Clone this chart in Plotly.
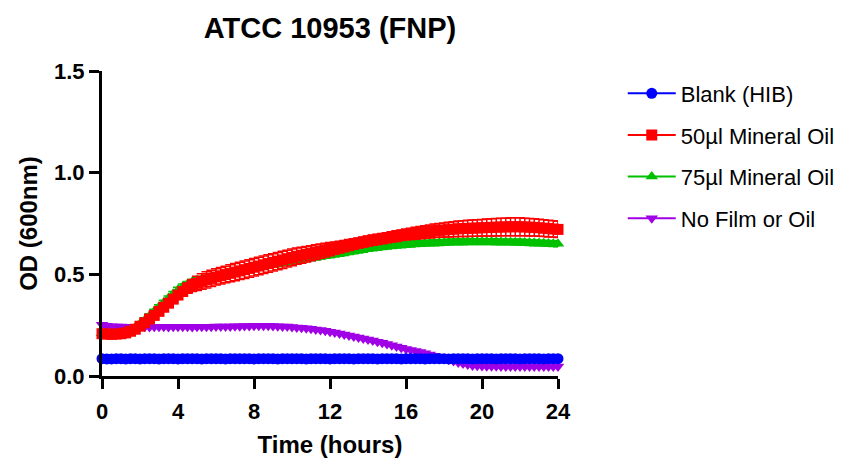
import plotly.graph_objects as go

# Time points (hours), every 15 minutes
time_h = [i * 0.25 for i in range(97)]

blank_hib = [0.085, 0.084, 0.084, 0.085, 0.085, 0.084, 0.085, 0.085, 0.084, 0.085,
             0.085, 0.085, 0.084, 0.085, 0.085, 0.085, 0.084, 0.085, 0.085, 0.085,
             0.085, 0.084, 0.085, 0.085, 0.085, 0.085, 0.084, 0.085, 0.085, 0.085,
             0.085, 0.085, 0.084, 0.085, 0.085, 0.085, 0.085, 0.084, 0.085, 0.085,
             0.085, 0.085, 0.085, 0.084, 0.085, 0.085, 0.085, 0.085, 0.084, 0.085,
             0.085, 0.085, 0.085, 0.084, 0.085, 0.085, 0.085, 0.085, 0.084, 0.085,
             0.085, 0.085, 0.085, 0.084, 0.085, 0.085, 0.085, 0.085, 0.084, 0.085,
             0.085, 0.085, 0.085, 0.084, 0.085, 0.085, 0.085, 0.085, 0.084, 0.085,
             0.085, 0.085, 0.085, 0.084, 0.085, 0.085, 0.085, 0.085, 0.084, 0.085,
             0.085, 0.085, 0.085, 0.084, 0.085, 0.085, 0.085]
blank_err = [0.003] * 97

oil50 = [0.208, 0.206, 0.205, 0.206, 0.208, 0.212, 0.220, 0.230, 0.245, 0.262,
         0.280, 0.298, 0.318, 0.338, 0.358, 0.378, 0.398, 0.416, 0.432, 0.445,
         0.456, 0.465, 0.473, 0.480, 0.487, 0.493, 0.499, 0.505, 0.511, 0.517,
         0.523, 0.529, 0.535, 0.541, 0.547, 0.553, 0.559, 0.565, 0.571, 0.577,
         0.583, 0.589, 0.594, 0.599, 0.604, 0.609, 0.614, 0.619, 0.624, 0.629,
         0.634, 0.639, 0.644, 0.649, 0.654, 0.659, 0.664, 0.668, 0.672, 0.676,
         0.680, 0.684, 0.688, 0.692, 0.696, 0.699, 0.702, 0.705, 0.708, 0.711,
         0.714, 0.716, 0.718, 0.720, 0.722, 0.724, 0.725, 0.726, 0.727, 0.728,
         0.729, 0.730, 0.731, 0.732, 0.733, 0.733, 0.734, 0.734, 0.734, 0.733,
         0.732, 0.731, 0.729, 0.727, 0.725, 0.723, 0.721]
oil50_err = [0.012, 0.012, 0.012, 0.012, 0.012, 0.012, 0.012, 0.012, 0.018, 0.018,
             0.018, 0.018, 0.018, 0.018, 0.018, 0.018, 0.020, 0.022, 0.025, 0.030,
             0.035, 0.038, 0.040, 0.040, 0.040, 0.041, 0.041, 0.042, 0.042, 0.042,
             0.043, 0.043, 0.043, 0.043, 0.043, 0.043, 0.042, 0.042, 0.042, 0.041,
             0.041, 0.040, 0.039, 0.038, 0.037, 0.036, 0.035, 0.034, 0.032, 0.030,
             0.029, 0.028, 0.027, 0.026, 0.025, 0.025, 0.025, 0.025, 0.025, 0.025,
             0.025, 0.025, 0.026, 0.026, 0.027, 0.028, 0.029, 0.030, 0.031, 0.032,
             0.033, 0.034, 0.035, 0.036, 0.037, 0.038, 0.039, 0.040, 0.040, 0.041,
             0.041, 0.042, 0.042, 0.043, 0.043, 0.043, 0.044, 0.044, 0.044, 0.043,
             0.043, 0.042, 0.042, 0.041, 0.041, 0.040, 0.040]

oil75 = [0.210, 0.209, 0.208, 0.209, 0.211, 0.216, 0.226, 0.240, 0.257, 0.276,
         0.296, 0.318, 0.340, 0.362, 0.384, 0.405, 0.424, 0.440, 0.453, 0.463,
         0.471, 0.477, 0.482, 0.487, 0.492, 0.497, 0.502, 0.507, 0.512, 0.517,
         0.522, 0.527, 0.531, 0.535, 0.539, 0.543, 0.547, 0.551, 0.555, 0.559,
         0.563, 0.567, 0.571, 0.575, 0.579, 0.583, 0.587, 0.591, 0.595, 0.599,
         0.603, 0.607, 0.611, 0.615, 0.619, 0.623, 0.627, 0.630, 0.633, 0.636,
         0.639, 0.641, 0.643, 0.645, 0.647, 0.649, 0.651, 0.652, 0.653, 0.654,
         0.655, 0.656, 0.657, 0.658, 0.659, 0.660, 0.660, 0.661, 0.661, 0.661,
         0.661, 0.661, 0.661, 0.660, 0.660, 0.659, 0.659, 0.658, 0.658, 0.657,
         0.656, 0.655, 0.654, 0.653, 0.652, 0.651, 0.650]
oil75_err = [0.010] * 16 + [0.012] * 32 + [0.014] * 49

no_film = [0.252, 0.247, 0.245, 0.244, 0.243, 0.242, 0.242, 0.241, 0.242, 0.242,
           0.241, 0.242, 0.242, 0.242, 0.241, 0.242, 0.242, 0.242, 0.242, 0.241,
           0.242, 0.242, 0.242, 0.242, 0.243, 0.243, 0.244, 0.244, 0.245, 0.245,
           0.246, 0.246, 0.247, 0.247, 0.247, 0.247, 0.246, 0.245, 0.244, 0.243,
           0.241, 0.239, 0.237, 0.235, 0.232, 0.229, 0.226, 0.222, 0.218, 0.214,
           0.209, 0.204, 0.199, 0.194, 0.189, 0.184, 0.179, 0.174, 0.168, 0.163,
           0.157, 0.151, 0.145, 0.139, 0.133, 0.128, 0.123, 0.118, 0.112, 0.106,
           0.100, 0.094, 0.088, 0.081, 0.074, 0.067, 0.061, 0.056, 0.052, 0.050,
           0.049, 0.048, 0.048, 0.048, 0.047, 0.047, 0.047, 0.047, 0.047, 0.047,
           0.047, 0.047, 0.047, 0.047, 0.047, 0.047, 0.047]
no_film_err = [0.005] * 97

x_ticks = [0, 4, 8, 12, 16, 20, 24]
y_ticks = [0.0, 0.5, 1.0, 1.5]

FONT = "Liberation Sans, Arial, sans-serif"

series = [
    # (name, y, err, color, symbol, legendrank)
    ("No Film or Oil", no_film, no_film_err, "#A000E6", "triangle-down", 4),
    ("75µl Mineral Oil", oil75, oil75_err, "#00C000", "triangle-up", 3),
    ("50µl Mineral Oil", oil50, oil50_err, "#FF0000", "square", 2),
    ("Blank (HIB)", blank_hib, blank_err, "#0000FF", "circle", 1),
]

fig = go.Figure()
for name, y, err, color, symbol, rank in series:
    fig.add_trace(go.Scatter(
        x=time_h, y=y, name=name, mode="lines+markers",
        line=dict(color=color, width=2),
        marker=dict(symbol=symbol, size=11, color=color, line=dict(width=0)),
        error_y=dict(type="data", array=err, visible=True, color=color,
                     thickness=1.5, width=5),
        legendrank=rank, legendgroup=name, cliponaxis=False,
    ))

# The page has an 8px body margin, so the figure is 844x451 and offset by 8px
W, H = 844, 451
fig.update_layout(
    width=W, height=H,
    margin=dict(l=94, r=294, t=63, b=83, autoexpand=False),
    paper_bgcolor="white", plot_bgcolor="white",
    font=dict(family=FONT, color="black"),
    title=dict(text="<b>ATCC 10953 (FNP)</b>", x=322 / W, xanchor="center",
               y=1 - 20 / H, yanchor="middle", font=dict(size=29)),
    showlegend=True,
    legend=dict(x=1.142, xanchor="left", y=0.995, yanchor="top",
                font=dict(size=22), tracegroupgap=10, itemwidth=48,
                bgcolor="rgba(0,0,0,0)"),
)
fig.update_xaxes(
    range=[0, 24], tickvals=x_ticks, ticktext=[str(v) for v in x_ticks],
    showline=True, linecolor="black", linewidth=3, mirror=False,
    ticks="outside", ticklen=10, tickwidth=3, tickcolor="black",
    showgrid=False, zeroline=False, automargin=False,
    tickfont=dict(size=22, family=FONT, weight="bold"), ticklabelstandoff=4,
    title=dict(text="<b>Time (hours)</b>", font=dict(size=24), standoff=13),
)
fig.update_yaxes(
    range=[0, 1.5], tickvals=y_ticks, ticktext=[f"{v:.1f}" for v in y_ticks],
    showline=True, linecolor="black", linewidth=3, mirror=False,
    ticks="outside", ticklen=10, tickwidth=3, tickcolor="black",
    showgrid=False, zeroline=False, automargin=False,
    tickfont=dict(size=22, family=FONT, weight="bold"),
    title=dict(text="<b>OD (600nm)</b>", font=dict(size=24), standoff=10),
)

fig.write_html("out.html")
